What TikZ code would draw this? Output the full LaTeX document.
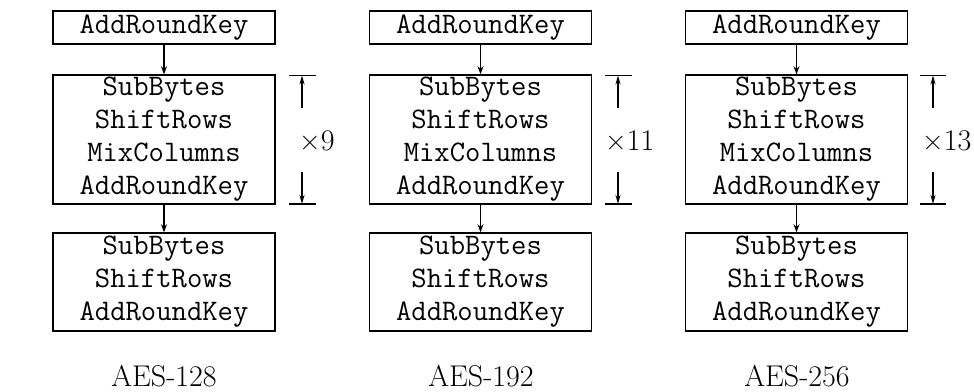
\documentclass[tikz,border=0pt]{standalone}
\usepackage{fontspec}
\usetikzlibrary{arrows.meta}
\begin{document}
\begin{tikzpicture}[x=1pt,y=-1pt,
  box/.style={draw,line width=1.5pt,inner sep=0pt,minimum width=222pt,align=center,
    font=\ttfamily\fontsize{29.8}{33}\selectfont},
  flow/.style={line width=1.3pt,-{Stealth[length=8pt,width=6pt]}},
  dimarrow/.style={line width=1.5pt,-{Stealth[length=9pt,width=5pt]}},
  tick/.style={line width=1.4pt},
  lbl/.style={font=\fontsize{30}{32}\selectfont,inner sep=0pt},
  rep/.style={font=\fontsize{30}{32}\selectfont,inner sep=0pt,anchor=base west}]
\useasboundingbox (0,0) rectangle (974,391);
% ---------- column 1 ----------
\node[box,minimum height=33pt] (t1) at (164,27.5) {AddRoundKey};
\node[box,minimum height=129pt] (m1) at (164,139.5) {SubBytes\\ShiftRows\\MixColumns\\AddRoundKey};
\node[box,minimum height=98pt] (b1) at (164,282) {SubBytes\\ShiftRows\\AddRoundKey};
\draw[flow] (t1) -- (m1);
\draw[flow] (m1) -- (b1);
\coordinate (a1t) at (302,75.5);
\coordinate (a1b) at (302,204);
\coordinate (a1u) at (302,108);
\coordinate (a1d) at (302,172);
\coordinate (k1tl) at (289,75.5); \coordinate (k1tr) at (316,75.5);
\coordinate (k1bl) at (289,204); \coordinate (k1br) at (316,204);
\draw[tick] (k1tl) -- (k1tr);
\draw[tick] (k1bl) -- (k1br);
\draw[dimarrow] (a1u) -- (a1t);
\draw[dimarrow] (a1d) -- (a1b);
\node[rep] (r1) at (299,150) {×9};
\node[lbl,anchor=base] (l1) at (164,386) {AES-128};
% ---------- column 2 ----------
\node[box,minimum height=33pt] (t2) at (480.5,27.5) {AddRoundKey};
\node[box,minimum height=129pt] (m2) at (480.5,139.5) {SubBytes\\ShiftRows\\MixColumns\\AddRoundKey};
\node[box,minimum height=98pt] (b2) at (480.5,282) {SubBytes\\ShiftRows\\AddRoundKey};
\draw[flow] (t2) -- (m2);
\draw[flow] (m2) -- (b2);
\coordinate (a2t) at (618,75.5);
\coordinate (a2b) at (618,204);
\coordinate (a2u) at (618,108);
\coordinate (a2d) at (618,172);
\coordinate (k2tl) at (605,75.5); \coordinate (k2tr) at (632,75.5);
\coordinate (k2bl) at (605,204); \coordinate (k2br) at (632,204);
\draw[tick] (k2tl) -- (k2tr);
\draw[tick] (k2bl) -- (k2br);
\draw[dimarrow] (a2u) -- (a2t);
\draw[dimarrow] (a2d) -- (a2b);
\node[rep] (r2) at (605,150) {×11};
\node[lbl,anchor=base] (l2) at (481,386) {AES-192};
% ---------- column 3 ----------
\node[box,minimum height=33pt] (t3) at (796.5,27.5) {AddRoundKey};
\node[box,minimum height=129pt] (m3) at (796.5,139.5) {SubBytes\\ShiftRows\\MixColumns\\AddRoundKey};
\node[box,minimum height=98pt] (b3) at (796.5,282) {SubBytes\\ShiftRows\\AddRoundKey};
\draw[flow] (t3) -- (m3);
\draw[flow] (m3) -- (b3);
\coordinate (a3t) at (933,75.5);
\coordinate (a3b) at (933,204);
\coordinate (a3u) at (933,108);
\coordinate (a3d) at (933,172);
\coordinate (k3tl) at (920,75.5); \coordinate (k3tr) at (946,75.5);
\coordinate (k3bl) at (920,204); \coordinate (k3br) at (946,204);
\draw[tick] (k3tl) -- (k3tr);
\draw[tick] (k3bl) -- (k3br);
\draw[dimarrow] (a3u) -- (a3t);
\draw[dimarrow] (a3d) -- (a3b);
\node[rep] (r3) at (922,150) {×13};
\node[lbl,anchor=base] (l3) at (797,386) {AES-256};
\end{tikzpicture}
\end{document}
